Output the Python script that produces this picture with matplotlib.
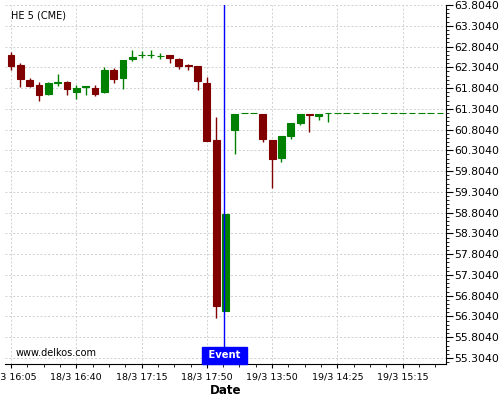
import numpy as np
import matplotlib
matplotlib.use("Agg")
import matplotlib.pyplot as plt
from matplotlib.ticker import MultipleLocator, FixedLocator, FormatStrFormatter
import matplotlib.transforms as mtransforms

# candles (5 min), index based x axis
opens = [62.595, 62.362, 61.994, 61.874, 61.665, 61.93, 61.946, 61.705, 61.83, 61.809,
         61.705, 62.234, 62.049, 62.506, 62.59, 62.59, 62.57, 62.602, 62.499, 62.347,
         62.33, 61.915, 60.552, 56.424, 60.799, 61.193, 61.193, 61.177, 60.544, 60.126,
         60.655, 60.968, 61.185, 61.13, 61.193, 61.193, 61.193, 61.193, 61.193, 61.193,
         61.193, 61.193, 61.193, 61.193, 61.193, 61.193, 61.193]
highs = [62.66, 62.395, 62.042, 61.939, 61.939, 62.13, 61.963, 61.874, 61.85, 61.866,
         62.314, 62.275, 62.491, 62.715, 62.70, 62.73, 62.64, 62.602, 62.523, 62.378,
         62.33, 62.07, 61.112, 58.773, 61.177, 61.193, 61.193, 61.177, 60.544, 60.648,
         60.96, 61.177, 61.185, 61.177, 61.193, 61.193, 61.193, 61.193, 61.193, 61.193,
         61.193, 61.193, 61.193, 61.193, 61.193, 61.193, 61.193]
lows = [62.25, 61.833, 61.818, 61.482, 61.633, 61.857, 61.633, 61.544, 61.633, 61.609,
        61.674, 61.929, 61.785, 62.458, 62.52, 62.53, 62.515, 62.395, 62.266, 62.25,
        61.746, 60.535, 56.265, 56.424, 60.208, 61.193, 61.193, 60.51, 59.39, 60.023,
        60.568, 60.92, 60.751, 61.04, 60.99, 61.193, 61.193, 61.193, 61.193, 61.193,
        61.193, 61.193, 61.193, 61.193, 61.193, 61.193, 61.193]
closes = [62.338, 62.018, 61.857, 61.641, 61.922, 61.94, 61.785, 61.795, 61.85, 61.665,
          62.234, 62.025, 62.475, 62.554, 62.60, 62.60, 62.58, 62.53, 62.338, 62.323,
          61.977, 60.535, 56.568, 58.773, 61.177, 61.193, 61.193, 60.583, 60.102, 60.648,
          60.96, 61.177, 61.16, 61.177, 61.193, 61.193, 61.193, 61.193, 61.193, 61.193,
          61.193, 61.193, 61.193, 61.193, 61.193, 61.193, 61.193]

tick_pos = [0, 7, 14, 21, 28, 35, 42]
tick_labels = ["18/3 16:05", "18/3 16:40", "18/3 17:15", "18/3 17:50",
               "19/3 13:50", "19/3 14:25", "19/3 15:15"]
event_idx = 23

o = np.array(opens); h = np.array(highs); l = np.array(lows); c = np.array(closes)
x = np.arange(len(o))
up = c >= o
cols = np.where(up, "#008000", "#800000")

fig = plt.figure(figsize=(5, 4), dpi=100)
ax = fig.add_axes([0.0106, 0.09, 0.8808, 0.8982])

ax.grid(True, color="#d0d0d0", linestyle=(0, (2, 2)), linewidth=0.7)
ax.set_axisbelow(True)

ax.vlines(x, l, h, colors=cols, linewidth=1, zorder=2)
ax.bar(x, np.abs(c - o), bottom=np.minimum(o, c), width=0.72, color=cols,
       edgecolor=cols, linewidth=0.8, zorder=3)

ax.axvline(event_idx - 0.12, color="#0000ff", linewidth=1, zorder=4)
trans = mtransforms.blended_transform_factory(ax.transData, ax.transAxes)
ax.annotate(" Event ", xy=(event_idx - 0.12, 0), xycoords=trans, xytext=(0, 3.5),
            textcoords="offset pixels", ha="center", va="bottom", color="white",
            fontsize=7.2, fontweight="bold", zorder=5,
            bbox=dict(boxstyle="square,pad=0.32", fc="#0000ff", ec="#0000ff"))

ax.text(0.0122, 0.969, "HE 5 (CME)", transform=ax.transAxes, fontsize=7,
        va="center", ha="left")
ax.text(0.023, 0.03, "www.delkos.com", transform=ax.transAxes, fontsize=7,
        va="center", ha="left")

ax.set_xlim(-0.6, 46.6)
ax.set_ylim(55.16, 63.81)

ax.yaxis.tick_right()
ax.yaxis.set_major_locator(FixedLocator(np.arange(55.304, 63.9, 0.5)))
ax.yaxis.set_major_formatter(FormatStrFormatter("%.4f"))
ax.yaxis.set_minor_locator(FixedLocator(np.arange(55.204, 63.85, 0.1)))
ax.tick_params(axis="y", which="major", length=5, labelsize=7.8, pad=1)
ax.tick_params(axis="y", which="minor", length=2.5)

ax.set_xticks(tick_pos)
ax.set_xticklabels(tick_labels)
ax.xaxis.set_minor_locator(MultipleLocator(1.75))
ax.tick_params(axis="x", which="major", length=3, labelsize=6.8, pad=3)
ax.tick_params(axis="x", which="minor", length=2.5)
ax.set_xlabel("Date", fontsize=8.6, fontweight="bold", labelpad=2)

for s in ["left", "top"]:
    ax.spines[s].set_visible(False)

fig.savefig("out.png", dpi=100)
